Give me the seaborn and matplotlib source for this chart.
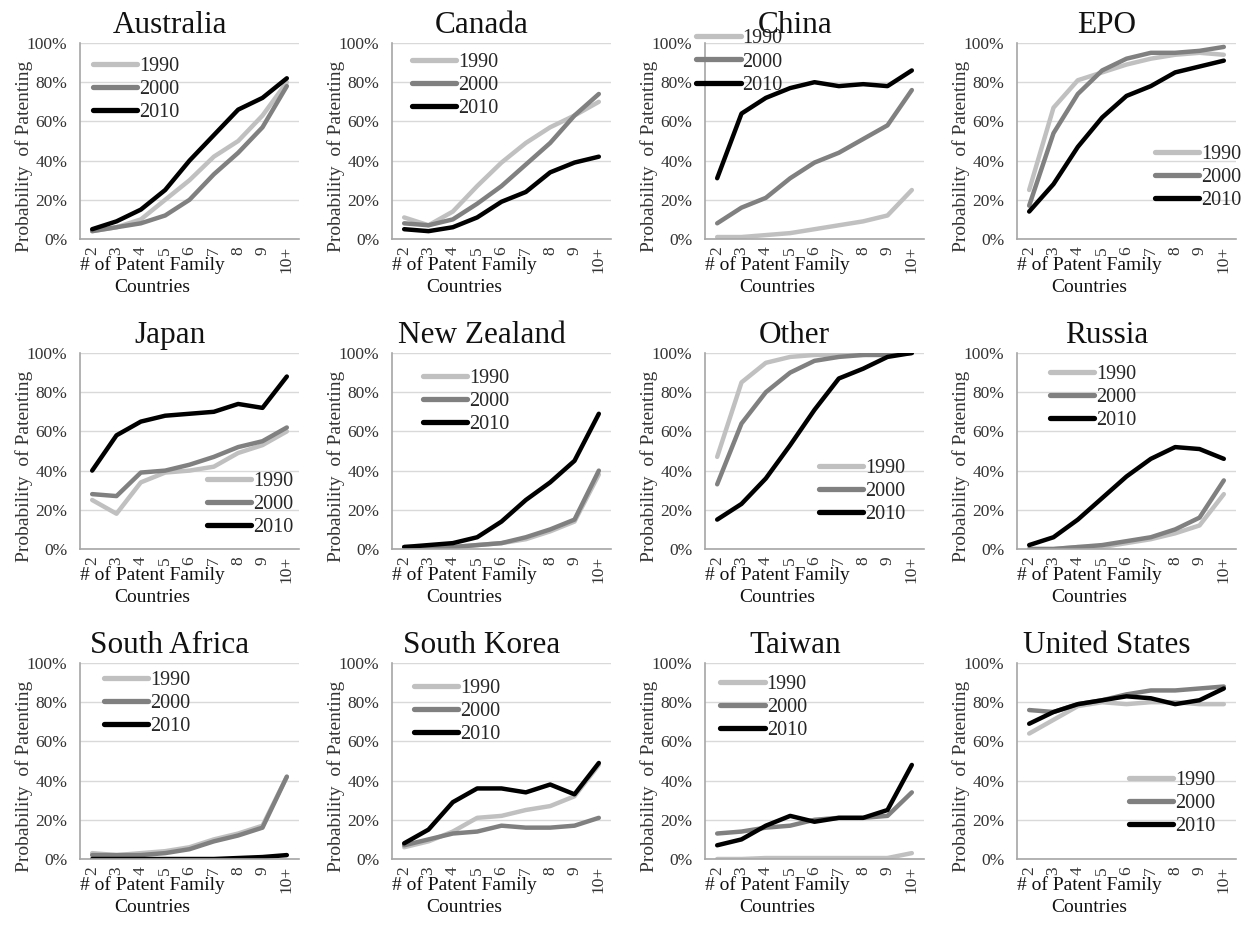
import numpy as np
import pandas as pd
import seaborn as sns
from matplotlib import pyplot as plt
from matplotlib.ticker import PercentFormatter

# x categories and series names
families = ["2", "3", "4", "5", "6", "7", "8", "9", "10+"]
years = ["1990", "2000", "2010"]
countries = ["Australia", "Canada", "China", "EPO",
             "Japan", "New Zealand", "Other", "Russia",
             "South Africa", "South Korea", "Taiwan", "United States"]

# probability of patenting (%), rows = 1990, 2000, 2010
australia = [[4, 6, 10, 20, 30, 42, 50, 63, 80],
             [4, 6, 8, 12, 20, 33, 44, 57, 78],
             [5, 9, 15, 25, 40, 53, 66, 72, 82]]
canada = [[11, 7, 14, 27, 39, 49, 57, 63, 70],
          [8, 7, 10, 18, 27, 38, 49, 63, 74],
          [5, 4, 6, 11, 19, 24, 34, 39, 42]]
china = [[1, 1, 2, 3, 5, 7, 9, 12, 25],
         [8, 16, 21, 31, 39, 44, 51, 58, 76],
         [31, 64, 72, 77, 80, 78, 79, 78, 86]]
epo = [[25, 67, 81, 85, 89, 92, 94, 95, 94],
       [17, 54, 74, 86, 92, 95, 95, 96, 98],
       [14, 28, 47, 62, 73, 78, 85, 88, 91]]
japan = [[25, 18, 34, 39, 40, 42, 49, 53, 60],
         [28, 27, 39, 40, 43, 47, 52, 55, 62],
         [40, 58, 65, 68, 69, 70, 74, 72, 88]]
new_zealand = [[1, 1, 1, 2, 3, 5, 9, 14, 38],
               [1, 1, 1, 2, 3, 6, 10, 15, 40],
               [1, 2, 3, 6, 14, 25, 34, 45, 69]]
other = [[47, 85, 95, 98, 99, 99, 99, 100, 100],
         [33, 64, 80, 90, 96, 98, 99, 99, 100],
         [15, 23, 36, 53, 71, 87, 92, 98, 100]]
russia = [[0, 0, 1, 1, 3, 5, 8, 12, 28],
          [0, 0, 1, 2, 4, 6, 10, 16, 35],
          [2, 6, 15, 26, 37, 46, 52, 51, 46]]
south_africa = [[3, 2, 3, 4, 6, 10, 13, 17, 42],
                [2, 2, 2, 3, 5, 9, 12, 16, 42],
                [0, 0, 0, 0, 0, 0, 0.5, 1, 2]]
south_korea = [[6, 9, 14, 21, 22, 25, 27, 32, 48],
               [7, 10, 13, 14, 17, 16, 16, 17, 21],
               [8, 15, 29, 36, 36, 34, 38, 33, 49]]
taiwan = [[0, 0, 0.5, 0.5, 0.5, 0.5, 0.5, 0.5, 3],
          [13, 14, 16, 17, 20, 21, 21, 22, 34],
          [7, 10, 17, 22, 19, 21, 21, 25, 48]]
united_states = [[64, 71, 78, 80, 79, 80, 80, 79, 79],
                 [76, 75, 79, 81, 84, 86, 86, 87, 88],
                 [69, 75, 79, 81, 83, 82, 79, 81, 87]]

all_series = [australia, canada, china, epo, japan, new_zealand,
              other, russia, south_africa, south_korea, taiwan, united_states]

rows = []
for country, series in zip(countries, all_series):
    for year, vals in zip(years, series):
        for fam, v in zip(families, vals):
            rows.append({"country": country, "year": year, "family": fam, "prob": v / 100})
df = pd.DataFrame(rows)

# legend anchor (upper left of legend box) in axes fraction
legend_pos = {
    "Australia": (0.06, 0.93), "Canada": (0.09, 0.95), "China": (-0.04, 1.07),
    "EPO": (0.63, 0.48), "Japan": (0.58, 0.395), "New Zealand": (0.14, 0.92),
    "Other": (0.52, 0.46), "Russia": (0.15, 0.94), "South Africa": (0.11, 0.96),
    "South Korea": (0.10, 0.92), "Taiwan": (0.07, 0.94), "United States": (0.51, 0.45),
}

palette = {"1990": "#c0c0c0", "2000": "#808080", "2010": "#000000"}

sns.set_style("white")
plt.rcParams["font.family"] = ["Liberation Serif", "DejaVu Serif"]

W, H = 1241, 927
fig = plt.figure(figsize=(12.41, 9.27), dpi=100)

col_left = [80, 392, 705, 1017]
row_top = [43, 353, 663]
ax_w, ax_h = 219, 196

for i, country in enumerate(countries):
    r, c = divmod(i, 4)
    left = col_left[c] / W
    bottom = 1 - (row_top[r] + ax_h) / H
    ax = fig.add_axes([left, bottom, ax_w / W, ax_h / H])
    sub = df[df["country"] == country]
    sns.lineplot(data=sub, x="family", y="prob", hue="year", palette=palette,
                 linewidth=3.2, sort=False, ax=ax)

    ax.set_xlim(-0.5, 8.5)
    ax.set_ylim(0, 1)
    ax.set_yticks(np.arange(0, 1.01, 0.2))
    ax.yaxis.set_major_formatter(PercentFormatter(1.0, decimals=0))
    ax.grid(axis="y", color="#d9d9d9", linewidth=1)
    ax.set_axisbelow(True)
    for s in ["top", "right"]:
        ax.spines[s].set_visible(False)
    for s in ["left", "bottom"]:
        ax.spines[s].set_color("#a6a6a6")
        ax.spines[s].set_linewidth(1.2)
    ax.tick_params(axis="y", length=0, pad=9, labelsize=12.5)
    ax.tick_params(axis="x", length=0, pad=5, labelsize=12.5, rotation=90)
    ax.tick_params(labelcolor="#333333")

    ax.set_title(country, x=0.41, pad=7, fontsize=22.5, color="#111111")
    ax.set_ylabel("Probability  of Patenting", fontsize=14, color="#333333")
    ax.yaxis.set_label_coords(-0.215, 0.42)
    ax.set_xlabel("# of Patent Family\nCountries", fontsize=14, color="#111111",
                  linespacing=1.4)
    ax.xaxis.set_label_coords(0.33, -0.085)

    leg = ax.legend(loc="upper left", bbox_to_anchor=legend_pos[country],
                    frameon=False, handlelength=2.2, handletextpad=0.1,
                    labelspacing=0.2, borderpad=0, borderaxespad=0,
                    prop={"size": 14.5})
    for line in leg.get_lines():
        line.set_linewidth(3.8)
    leg.set_zorder(5)

plt.savefig("out.png", dpi=100)
